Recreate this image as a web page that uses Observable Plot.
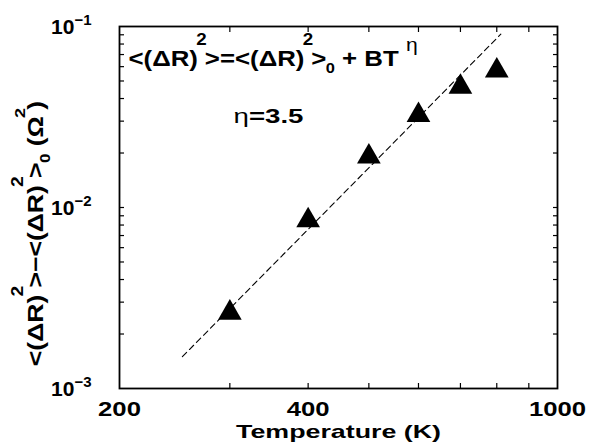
<!DOCTYPE html>
<html>
<head>
<meta charset="utf-8">
<script src="https://cdn.jsdelivr.net/npm/d3@7"></script>
<script src="https://cdn.jsdelivr.net/npm/@observablehq/plot@0.6"></script>
<style>
  html, body { margin: 0; padding: 0; background: white; }
</style>
</head>
<body>
<div id="chart"></div>
<script>
// ---- data ----
const temperatures = [300, 400, 500, 600, 700, 800];            // K
const deltaR2 = [0.00262, 0.00849, 0.0191, 0.0324, 0.0464, 0.0570]; // Ω²
const fitT = [252, 812];           // dashed fit line, ends
const fitY = [0.00150, 0.0907];
const xTickLabels = [200, 400, 1000];
const yTickValues = [0.001, 0.01, 0.1];
const yTickExponents = ["−3", "−2", "−1"];
const xMinorTicks = [300, 400, 500, 600, 700, 800, 900];
const yMinorTicks = [0.002, 0.003, 0.004, 0.005, 0.006, 0.007, 0.008, 0.009, 0.01,
                     0.02, 0.03, 0.04, 0.05, 0.06, 0.07, 0.08, 0.09];
const xLabel = "Temperature (K)";
const formulaText = "<(ΔR)²>=<(ΔR)²>₀ + BTη";
const etaText = "η=3.5";
const yLabelText = "<(ΔR)²>−<(ΔR)²>₀ (Ω²)";

const points = temperatures.map((t, i) => ({t, v: deltaR2[i]}));
const fit = fitT.map((t, i) => ({t, v: fitY[i]}));

const font = "'Liberation Sans', Arial, Helvetica, sans-serif";

const chart = Plot.plot({
  width: 589,
  height: 445,
  marginTop: 26,
  marginRight: 32,
  marginBottom: 57,
  marginLeft: 119,
  x: {type: "log", domain: [200, 1000], axis: null},
  y: {type: "log", domain: [0.001, 0.1], axis: null},
  style: {background: "white", color: "black", fontFamily: font, overflow: "visible"},
  marks: [
    Plot.axisX({anchor: "bottom", ticks: xMinorTicks, tickSize: -5, tickFormat: () => "", label: null, strokeWidth: 1.2}),
    Plot.axisX({anchor: "top", ticks: xMinorTicks, tickSize: -5, tickFormat: () => "", label: null, strokeWidth: 1.2}),
    Plot.axisY({anchor: "left", ticks: yMinorTicks, tickSize: -5, tickFormat: () => "", label: null, strokeWidth: 1.2}),
    Plot.axisY({anchor: "right", ticks: yMinorTicks, tickSize: -5, tickFormat: () => "", label: null, strokeWidth: 1.2}),
    Plot.frame({stroke: "black", strokeWidth: 1.8}),
    Plot.line(fit, {x: "t", y: "v", stroke: "black", strokeWidth: 1.1, strokeDasharray: "6,4"}),
    Plot.dot(points, {x: "t", y: "v", symbol: "triangle", r: 8.8, fill: "black", stroke: null}),
    // text marks (order matters for the post-processing below)
    Plot.text(xTickLabels, {x: d => d, text: d => String(d), frameAnchor: "bottom", dy: 27,
      lineAnchor: "bottom", textAnchor: "middle", fontSize: 21, fontWeight: "bold"}),
    Plot.text(yTickValues, {y: d => d, text: (d, i) => "10" + yTickExponents[i], frameAnchor: "left", dx: -28, dy: 7.5,
      lineAnchor: "bottom", textAnchor: "end", fontSize: 21, fontWeight: "bold"}),
    Plot.text([xLabel], {text: d => d, frameAnchor: "bottom", dy: 49, lineAnchor: "bottom",
      textAnchor: "middle", fontSize: 19, fontWeight: "bold"}),
    Plot.text([yLabelText], {text: d => d, frameAnchor: "left", dx: -77, dy: 26, rotate: -90, lineAnchor: "bottom",
      textAnchor: "middle", fontSize: 22, fontWeight: "bold"}),
    Plot.text([formulaText], {text: d => d, frameAnchor: "top-left", dx: 9, dy: 39, lineAnchor: "bottom",
      textAnchor: "start", fontSize: 22, fontWeight: "bold"}),
    Plot.text([etaText], {text: d => d, frameAnchor: "top-left", dx: 114, dy: 96, lineAnchor: "bottom",
      textAnchor: "start", fontSize: 20, fontWeight: "bold"})
  ]
});

document.getElementById("chart").appendChild(chart);

// ---- rich text (superscripts / subscripts) and horizontal stretch like the original ----
const NS = "http://www.w3.org/2000/svg";
function setRich(el, segs) {
  if (!el) return;
  while (el.firstChild) el.removeChild(el.firstChild);
  let cur = 0;
  for (const s of segs) {
    const ts = document.createElementNS(NS, "tspan");
    const shift = s.shift || 0;
    ts.setAttribute("dy", shift - cur);
    cur = shift;
    if (s.dx) ts.setAttribute("dx", s.dx);
    if (s.size) ts.setAttribute("font-size", s.size);
    if (s.weight) ts.setAttribute("font-weight", s.weight);
    ts.textContent = s.t;
    el.appendChild(ts);
  }
}
// stretch text horizontally (along its own direction) to a target width, around its anchor point
function stretch(el, width) {
  if (!el) return;
  const natural = el.getComputedTextLength();
  if (!natural) return;
  const sx = width / natural;
  const tr = el.getAttribute("transform");
  if (tr) {
    el.setAttribute("transform", `${tr} scale(${sx},1)`);
  } else {
    const x = +el.getAttribute("x") || 0, y = +el.getAttribute("y") || 0;
    el.setAttribute("transform", `translate(${x},${y}) scale(${sx},1) translate(${-x},${-y})`);
  }
}
const textGroups = Array.from(chart.querySelectorAll('g[aria-label="text"]'));
const texts = (k) => textGroups[k] ? Array.from(textGroups[k].querySelectorAll("text")) : [];
const [G_XT, G_YT, G_XL, G_YL, G_F, G_E] = [0, 1, 2, 3, 4, 5];

const sup = (t, size = 16, shift = -20) => ({t, size, shift, dx: -1.5});
const sub = (t, size = 14, shift = 7) => ({t, size, shift, dx: -0.5});
const tight = (t) => ({t, dx: -1.5});

const formula = texts(G_F)[0];
setRich(formula, [
  {t: "<(ΔR)"}, sup("2", 16, -21), tight(">=<(ΔR)"), sup("2", 16, -21), tight(">"), sub("0"), {t: " + BT "},
  {t: "η", size: 18, weight: "normal", shift: -15}
]);
stretch(formula, 297);

const ylab = texts(G_YL)[0];
setRich(ylab, [
  {t: "<(ΔR)"}, sup("2"), tight(">−<(ΔR)"), sup("2"), tight(">"), sub("0"), {t: " (Ω"}, sup("2", 15, -18), tight(")")
]);
stretch(ylab, 277);

const eta = texts(G_E)[0];
setRich(eta, [{t: "η", weight: "normal"}, {t: "=3.5"}]);
stretch(eta, 70);

stretch(texts(G_XL)[0], 205);

texts(G_XT).forEach((el, i) => stretch(el, String(xTickLabels[i]).length * 14.3));

texts(G_YT).forEach((el, i) => {
  setRich(el, [{t: "10"}, {t: yTickExponents[i], size: 15, shift: -9}]);
});
</script>
</body>
</html>
